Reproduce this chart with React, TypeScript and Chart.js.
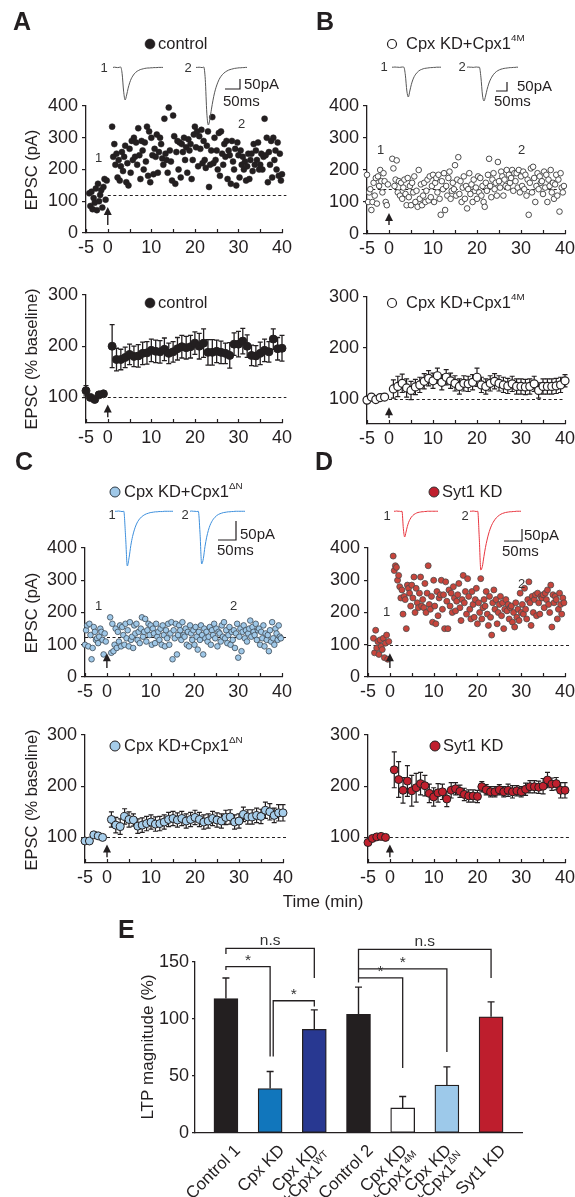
import React, { useEffect, useRef } from "react";
import { Chart, registerables } from "chart.js";
Chart.register(...registerables);

const FONT = "'Liberation Sans', Arial, Helvetica, sans-serif";
const INK = "#231f20";

// ---------------- data ----------------
const TIME_TICKS = [-5, 0, 10, 20, 30, 40];
const TIME_MINOR = [-5, 0, 5, 10, 15, 20, 25, 30, 35, 40];
const EPSC_TICKS = [0, 100, 200, 300, 400];
const PCT_TICKS = [100, 200, 300];
const SWEEP_MIN = 0.25; // minutes between sweeps

// Panel A (control) single-cell EPSC amplitudes (pA)
const A_BASE = [125, 85, 130, 75, 110, 95, 140, 72, 155, 100, 120, 135, 80, 145, 170, 105, 165];
const A_POST = [
  335, 240, 280, 215, 250, 175, 230, 165, 210, 255, 195, 240, 275, 160, 220, 150, 265, 190, 290, 230,
  300, 240, 285, 215, 330, 245, 170, 290, 260, 200, 285, 225, 335, 180, 320, 160, 300, 245, 185, 265,
  240, 310, 190, 255, 300, 280, 235, 215, 360, 250, 230, 190, 395, 260, 225, 165, 370, 305, 155, 255,
  290, 200, 285, 175, 280, 255, 300, 230, 270, 190, 295, 260, 280, 170, 230, 310, 335, 270, 320, 210,
  305, 265, 325, 220, 290, 230, 205, 275, 320, 145, 215, 260, 365, 220, 300, 230, 260, 200, 315, 180,
  320, 250, 215, 280, 240, 290, 170, 260, 245, 155, 290, 225, 200, 265, 150, 285, 245, 175, 260, 215,
  240, 200, 225, 165, 210, 250, 170, 230, 250, 195, 280, 215, 260, 230, 285, 200, 215, 250, 200, 240,
  360, 245, 300, 160, 255, 215, 290, 175, 300, 230, 260, 200, 285, 180, 250, 165, 185,
];
// Panel B (Cpx KD + Cpx1 4M)
const B_BASE = [185, 100, 130, 140, 75, 100, 160, 120, 175, 95, 180, 150, 200, 165, 130, 190, 165, 100, 90, 155];
const B_POST = [
  235, 205, 150, 170, 230, 130, 165, 120, 160, 110, 145, 170, 125, 90, 175, 115, 150, 90, 160, 130,
  180, 100, 135, 85, 200, 110, 155, 90, 120, 160, 100, 135, 170, 105, 180, 115, 150, 185, 100, 160,
  175, 130, 185, 110, 60, 165, 140, 190, 75, 150, 120, 175, 195, 110, 135, 160, 140, 215, 120, 170,
  240, 125, 165, 100, 145, 180, 110, 150, 80, 140, 190, 125, 155, 100, 170, 135, 145, 110, 180, 130,
  175, 120, 150, 100, 85, 160, 135, 185, 235, 150, 115, 170, 190, 140, 160, 120, 225, 165, 145, 195,
  180, 120, 170, 150, 200, 145, 185, 160, 175, 200, 135, 190, 165, 190, 145, 200, 130, 180, 150, 195,
  140, 185, 120, 170, 60, 160, 205, 130, 210, 175, 100, 150, 190, 140, 180, 160, 165, 125, 195, 145,
  185, 100, 170, 150, 200, 130, 160, 110, 155, 185, 120, 170, 70, 190, 145, 130, 150,
];
// Panel C (Cpx KD + Cpx1 ΔN)
const C_BASE = [100, 145, 160, 95, 165, 130, 55, 90, 155, 140, 115, 120, 105, 125, 150, 140, 115, 70, 135, 110];
const C_POST = [
  185, 75, 165, 80, 100, 150, 90, 140, 110, 160, 95, 155, 130, 100, 165, 120, 145, 95, 170, 115,
  125, 90, 160, 135, 165, 115, 140, 105, 150, 185, 125, 140, 180, 110, 145, 165, 130, 160, 100, 150,
  135, 105, 165, 125, 140, 115, 150, 100, 160, 130, 95, 145, 120, 165, 100, 135, 170, 55, 145, 120,
  165, 70, 130, 160, 145, 115, 170, 130, 125, 150, 100, 140, 95, 160, 135, 115, 145, 100, 155, 125,
  85, 140, 115, 160, 130, 70, 150, 120, 140, 110, 125, 155, 100, 145, 130, 165, 120, 150, 95, 140,
  135, 110, 160, 125, 170, 120, 145, 105, 130, 155, 100, 140, 115, 145, 90, 135, 165, 60, 125, 150,
  80, 140, 160, 120, 145, 110, 135, 150, 175, 125, 155, 140, 130, 165, 115, 145, 150, 100, 140, 120,
  160, 95, 135, 115, 130, 80, 145, 110, 170, 120, 100, 150, 135, 115, 160, 125, 120,
];
// Panel D (Syt1 KD)
const D_BASE = [120, 75, 145, 90, 110, 70, 115, 95, 85, 120, 60, 105, 130, 55, 110];
const D_POST = [
  375, 330, 345, 340, 300, 315, 280, 245, 270, 195, 250, 240, 150, 285, 275, 260, 220, 285, 245, 310,
  200, 275, 230, 215, 260, 310, 220, 240, 215, 290, 200, 260, 345, 225, 210, 250, 170, 300, 220, 165,
  265, 190, 245, 255, 300, 210, 255, 150, 295, 235, 150, 270, 220, 260, 200, 280, 245, 205, 235, 255,
  290, 215, 175, 240, 315, 230, 265, 195, 305, 250, 210, 180, 265, 225, 185, 240, 275, 165, 230, 200,
  305, 180, 215, 240, 220, 265, 195, 160, 250, 185, 130, 230, 270, 210, 240, 165, 200, 225, 250, 190,
  230, 150, 210, 240, 205, 225, 180, 215, 220, 170, 200, 155, 230, 185, 210, 175, 260, 200, 225, 195,
  275, 210, 180, 240, 295, 230, 160, 250, 200, 240, 255, 190, 260, 230, 195, 250, 245, 255, 215, 260,
  240, 270, 225, 200, 285, 155, 255, 230, 250, 240, 180, 210, 260, 225, 195, 245, 230,
];

// Averaged time courses (% baseline), 1-min bins
const BIN_T = [-5, -4, -3, -2, -1, 1, 2, 3, 4, 5, 6, 7, 8, 9, 10, 11, 12, 13, 14, 15, 16, 17, 18, 19, 20,
  21, 22, 23, 24, 25, 26, 27, 28, 29, 30, 31, 32, 33, 34, 35, 36, 37, 38, 39, 40];
const A_PCT = [113, 100, 96, 105, 107, 200, 174, 174, 178, 184, 180, 181, 186, 187, 192, 190, 189, 194, 186, 189,
  195, 199, 197, 199, 206, 200, 206, 188, 188, 190, 188, 186, 182, 204, 204, 210, 200, 182, 181, 186, 192, 189, 214, 195, 196];
const A_SEM = [10, 5, 5, 4, 4, 42, 22, 20, 20, 20, 20, 22, 22, 22, 22, 22, 22, 22, 20, 20,
  22, 22, 22, 22, 22, 25, 28, 25, 25, 22, 22, 20, 25, 22, 25, 25, 22, 20, 20, 22, 22, 20, 20, 22, 25];
const B_PCT = [97, 103, 98, 102, 103, 119, 124, 130, 121, 116, 123, 127, 134, 140, 135, 145, 132, 142, 135, 130,
  124, 130, 129, 132, 142, 127, 124, 130, 134, 130, 127, 125, 129, 124, 124, 123, 124, 129, 116, 124, 124, 124, 125, 127, 135];
const B_SEM = [4, 5, 4, 3, 3, 18, 20, 18, 18, 18, 15, 15, 15, 15, 15, 15, 15, 15, 15, 15,
  15, 15, 15, 15, 18, 15, 15, 15, 15, 15, 15, 15, 15, 15, 15, 15, 15, 15, 15, 15, 15, 15, 15, 15, 12];
const C_PCT = [93, 93, 105, 103, 100, 135, 124, 121, 141, 135, 134, 122, 124, 127, 130, 126, 127, 130, 135, 137,
  134, 137, 132, 135, 139, 135, 130, 132, 137, 134, 132, 139, 140, 130, 132, 145, 140, 140, 143, 141, 153, 150, 143, 148, 148];
const C_SEM = [4, 3, 3, 3, 3, 15, 15, 15, 15, 15, 12, 14, 14, 14, 14, 14, 14, 14, 14, 14,
  14, 14, 14, 14, 14, 14, 14, 14, 14, 14, 14, 14, 14, 14, 14, 14, 14, 14, 14, 14, 16, 16, 14, 16, 16];
const D_PCT = [90, 98, 101, 102, 100, 232, 213, 192, 210, 191, 197, 205, 201, 186, 179, 187, 189, 175, 192, 195,
  190, 184, 181, 181, 180, 199, 193, 189, 189, 193, 189, 192, 189, 191, 189, 194, 199, 199, 198, 200, 212, 204, 205, 192, 192];
const D_SEM = [4, 3, 3, 3, 3, 35, 35, 25, 30, 30, 28, 22, 20, 18, 18, 18, 15, 15, 15, 12,
  12, 12, 12, 12, 12, 10, 10, 10, 10, 10, 10, 12, 12, 10, 10, 12, 12, 12, 12, 15, 15, 12, 12, 15, 15];

// Example EPSC traces (pA vs ms)
const TRACE_T = [0, 5, 10, 15, 20, 25, 30, 35, 40, 45, 50, 55, 60, 65, 70, 75, 80, 85, 90, 95,
  100, 105, 110, 115, 120, 125, 130, 135, 140, 145, 150, 155, 160, 165];
const TR_A1 = [0, 1, 0, -1, 0, 2, -30, -120, -165, -140, -105, -78, -58, -44, -33, -25, -19, -15, -11, -9, -7, -5, -4, -3, -3, -2, -2, -1, -1, -1, 0, 0, 0, 0];
const TR_A2 = [0, 0, 1, 0, -1, 2, -60, -230, -290, -260, -210, -165, -128, -100, -78, -60, -47, -37, -29, -23, -18, -14, -11, -9, -7, -5, -4, -3, -2, -2, -1, -1, 0, 0];
const TR_B1 = [0, 0, 1, 0, 0, -1, 0, 1, 0, -40, -120, -150, -120, -88, -64, -47, -35, -26, -19, -14, -11, -8, -6, -5, -4, -3, -2, -2, -1, -1, 0, 0, 0, 0];
const TR_B2 = [0, 1, 0, 0, -1, 0, 1, 0, 0, -50, -140, -170, -145, -112, -85, -65, -50, -38, -29, -22, -17, -13, -10, -8, -6, -5, -4, -3, -2, -2, -1, -1, 0, 0];
const TR_C1 = [0, 0, 1, 0, -1, 0, -90, -200, -170, -125, -92, -68, -50, -37, -28, -21, -16, -12, -9, -7, -5, -4, -3, -2, -2, -1, -1, -1, 0, 0, 0, 0, 0, 0];
const TR_C2 = [0, 1, 0, 0, -1, 0, -80, -195, -175, -130, -96, -71, -52, -39, -29, -22, -16, -12, -9, -7, -5, -4, -3, -2, -2, -1, -1, 0, 0, 0, 0, 0, 0, 0];
const TR_D1 = [0, 0, 1, 0, 0, -1, 0, -70, -105, -85, -62, -45, -33, -24, -18, -13, -10, -7, -5, -4, -3, -2, -2, -1, -1, 0, 0, 0, 0, 0, 0, 0, 0, 0];
const TR_D2 = [0, 0, 1, 0, -1, 0, -110, -240, -225, -185, -148, -118, -93, -73, -57, -45, -35, -27, -21, -16, -12, -9, -7, -5, -4, -3, -2, -2, -1, -1, 0, 0, 0, 0];

// Panel E: LTP magnitude
type Seg = { t: string; sup?: boolean };
const E_X = [0, 1, 2, 3, 4, 5, 6];
const E_LABELS: Seg[][][] = [
  [[{ t: "Control 1" }]],
  [[{ t: "Cpx KD" }]],
  [[{ t: "Cpx KD" }], [{ t: "+Cpx1" }, { t: "WT", sup: true }]],
  [[{ t: "Control 2" }]],
  [[{ t: "Cpx KD" }], [{ t: "+Cpx1" }, { t: "4M", sup: true }]],
  [[{ t: "Cpx KD" }], [{ t: "+Cpx1" }, { t: "ΔN", sup: true }]],
  [[{ t: "Syt1 KD" }]],
];
const E_VALUES = [118, 39, 91, 104, 22, 42, 102];
const E_ERR = [18, 15, 17, 24, 10, 16, 13];
const E_COLORS = ["#231f20", "#1176bc", "#283891", "#231f20", "#ffffff", "#9dc9ea", "#be1e2d"];
const E_TICKS = [0, 50, 100, 150];
const E_BRACKETS = [
  { x0: 0, x1: 2, y: 162, yl: 157, yr: 136, label: "n.s" },
  { x0: 0, x1: 1, y: 146, yl: 143, yr: 67, label: "*" },
  { x0: 1.07, x1: 2, y: 116, yl: 67, yr: 111, label: "*" },
  { x0: 3, x1: 6, y: 161, yl: 132, yr: 136, label: "n.s" },
  { x0: 3, x1: 5, y: 144, yl: 144, yr: 71, label: "*" },
  { x0: 3, x1: 4, y: 136, yl: 136, yr: 57, label: "*" },
];

// ---------------- drawing helpers ----------------
type Box = { x0: number; y0: number; x1: number; y1: number };
type Area = { l: number; t: number; r: number; b: number };
type Txt = { x: number; y: number; s: string | Seg[]; size: number; bold?: boolean; align?: string; rot?: number; dx?: number; dy?: number; color?: string };
type Dot = { x: number; y: number; r: number; fill: string; stroke: string; lw: number };

function drawText(ctx: CanvasRenderingContext2D, t: Txt, ox: number, oy: number) {
  const segs: Seg[] = typeof t.s === "string" ? [{ t: t.s }] : t.s;
  ctx.save();
  ctx.translate(t.x - ox, t.y - oy);
  if (t.rot) ctx.rotate(t.rot);
  if (t.dx || t.dy) ctx.translate(t.dx || 0, t.dy || 0);
  ctx.fillStyle = t.color || INK;
  ctx.textBaseline = "middle";
  ctx.textAlign = "left";
  const f = (s: Seg) => `${t.bold ? "bold " : ""}${s.sup ? t.size * 0.6 : t.size}px ${FONT}`;
  let w = 0;
  for (const s of segs) { ctx.font = f(s); w += ctx.measureText(s.t).width; }
  let x = t.align === "center" ? -w / 2 : t.align === "right" ? -w : 0;
  for (const s of segs) {
    ctx.font = f(s);
    ctx.fillText(s.t, x, s.sup ? -t.size * 0.32 : 0);
    x += ctx.measureText(s.t).width;
  }
  ctx.restore();
}

function decoPlugin(d: any) {
  const ox = d.box.x0, oy = d.box.y0;
  return {
    id: "deco",
    beforeDatasetsDraw(chart: any) {
      const ctx: CanvasRenderingContext2D = chart.ctx;
      const xs = chart.scales.x, ys = chart.scales.y;
      ctx.save();
      if (d.hline) {
        ctx.strokeStyle = INK; ctx.lineWidth = 1.2; ctx.setLineDash([3, 2.5]);
        const py = Math.round(ys.getPixelForValue(d.hline.y)) + 0.5;
        ctx.beginPath();
        ctx.moveTo(xs.getPixelForValue(d.hline.x0), py);
        ctx.lineTo(xs.getPixelForValue(d.hline.x1), py);
        ctx.stroke();
        ctx.setLineDash([]);
      }
      if (d.err) {
        const e = d.err;
        ctx.strokeStyle = INK; ctx.lineWidth = e.lw;
        e.xs.forEach((xv: number, i: number) => {
          const px = xs.getPixelForValue(xv);
          const top = ys.getPixelForValue(e.ys[i] + e.es[i]);
          const bot = e.down ? ys.getPixelForValue(e.ys[i] - e.es[i]) : ys.getPixelForValue(e.ys[i]);
          ctx.beginPath();
          ctx.moveTo(px, top); ctx.lineTo(px, bot);
          ctx.moveTo(px - e.cap, top); ctx.lineTo(px + e.cap, top);
          if (e.down) { ctx.moveTo(px - e.cap, bot); ctx.lineTo(px + e.cap, bot); }
          ctx.stroke();
        });
      }
      ctx.restore();
    },
    afterDraw(chart: any) {
      const ctx: CanvasRenderingContext2D = chart.ctx;
      const xs = chart.scales.x, ys = chart.scales.y;
      const ca = chart.chartArea;
      ctx.save();
      if (d.innerTicks) {
        ctx.strokeStyle = INK; ctx.lineWidth = 1.2;
        ctx.beginPath();
        for (const v of d.innerTicks) {
          const px = Math.round(xs.getPixelForValue(v)) + 0.5;
          ctx.moveTo(px, ca.bottom); ctx.lineTo(px, ca.bottom - 4);
        }
        ctx.stroke();
      }
      if (d.arrow) {
        const a = d.arrow;
        const px = xs.getPixelForValue(a.x);
        const tail = ys.getPixelForValue(a.y0), tip = ys.getPixelForValue(a.y1);
        ctx.strokeStyle = INK; ctx.lineWidth = 1.4;
        ctx.beginPath(); ctx.moveTo(px, tail); ctx.lineTo(px, tip + 6); ctx.stroke();
        ctx.fillStyle = INK;
        ctx.beginPath(); ctx.moveTo(px, tip); ctx.lineTo(px - 4, tip + 8); ctx.lineTo(px + 4, tip + 8); ctx.closePath(); ctx.fill();
      }
      if (d.plines) {
        for (const pl of d.plines) {
          ctx.strokeStyle = pl.color || INK; ctx.lineWidth = pl.lw || 1.2;
          ctx.beginPath();
          pl.pts.forEach((p: number[], i: number) => (i ? ctx.lineTo(p[0] - ox, p[1] - oy) : ctx.moveTo(p[0] - ox, p[1] - oy)));
          ctx.stroke();
        }
      }
      if (d.dots) {
        for (const o of d.dots as Dot[]) {
          ctx.beginPath(); ctx.arc(o.x - ox, o.y - oy, o.r, 0, Math.PI * 2);
          ctx.fillStyle = o.fill; ctx.fill();
          ctx.lineWidth = o.lw; ctx.strokeStyle = o.stroke; ctx.stroke();
        }
      }
      if (d.texts) for (const t of d.texts) drawText(ctx, t, ox, oy);
      if (d.extra) d.extra(chart, ctx);
      ctx.restore();
    },
  };
}

function frame(box: Box, area: Area, xr: number[], xTicks: number[], yr: number[], yTicks: number[], showX: boolean, yTickLen = 4, yPad = 4) {
  const yW = area.l - box.x0, xH = box.y1 - area.b;
  return {
    layout: { padding: { left: 0, bottom: 0, top: area.t - box.y0, right: box.x1 - area.r } },
    scales: {
      x: {
        type: "linear", min: xr[0], max: xr[1], offset: false,
        afterBuildTicks: (s: any) => { s.ticks = xTicks.map((v) => ({ value: v })); },
        afterFit: (s: any) => { s.height = xH; },
        grid: { display: false, drawTicks: false, offset: false },
        border: { display: true, color: INK, width: 1.3 },
        ticks: { display: showX, font: { family: FONT, size: 18 }, color: INK, padding: 4, maxRotation: 0, autoSkip: false },
      },
      y: {
        type: "linear", min: yr[0], max: yr[1],
        afterBuildTicks: (s: any) => { s.ticks = yTicks.map((v) => ({ value: v })); },
        afterFit: (s: any) => { s.width = yW; },
        grid: { display: true, drawOnChartArea: false, drawTicks: true, tickLength: yTickLen, color: INK, lineWidth: 1.2 },
        border: { display: true, color: INK, width: 1.3 },
        ticks: { font: { family: FONT, size: 18 }, color: INK, padding: yPad, autoSkip: false },
      },
    },
  };
}

const baseOpts = (fr: any) => ({
  animation: false, responsive: false, maintainAspectRatio: false, events: [],
  layout: fr.layout, scales: fr.scales,
  plugins: { legend: { display: false }, tooltip: { enabled: false } },
});

function sweeps(start: number, vals: number[]) {
  return vals.map((v, i) => ({ x: start + i * SWEEP_MIN, y: v }));
}

function timeChart(p: any) {
  const fr = frame(p.box, p.area, [-5, 40], TIME_TICKS, p.yr, p.yTicks, true);
  return {
    box: p.box,
    make: () => ({
      type: "scatter",
      data: {
        datasets: [{
          data: p.points(), showLine: false, clip: false,
          pointRadius: p.dot.r, pointHoverRadius: p.dot.r,
          pointBackgroundColor: p.dot.fill, pointBorderColor: p.dot.stroke, pointBorderWidth: p.dot.lw,
        }],
      },
      options: baseOpts(fr),
      plugins: [decoPlugin({ ...p.deco, box: p.box, innerTicks: TIME_MINOR })],
    }),
  };
}

function traceChart(x0: number, x1: number, y0: number, y1: number, vals: number[], color: string) {
  const box = { x0: x0 - 2, y0: y0 - 2, x1: x1 + 2, y1: y1 + 2 };
  return {
    box,
    make: () => ({
      type: "line",
      data: { datasets: [{ data: TRACE_T.map((t, i) => ({ x: t, y: vals[i] })), borderColor: color, borderWidth: 1, pointRadius: 0, cubicInterpolationMode: "monotone", clip: false }] },
      options: {
        animation: false, responsive: false, maintainAspectRatio: false, events: [],
        layout: { padding: 2 },
        plugins: { legend: { display: false }, tooltip: { enabled: false } },
        scales: {
          x: { type: "linear", display: false, min: 0, max: 165 },
          y: { type: "linear", display: false, min: Math.min(...vals), max: Math.max(...vals) },
        },
      },
    }),
  };
}

const T = (x: number, y: number, s: string | Seg[], size: number, extra: any = {}): Txt => ({ x, y, s, size, ...extra });
const ROT = -Math.PI / 2;
const LEG = 16.5;
const LET = 25;
const sup4M: Seg[] = [{ t: "Cpx KD+Cpx1" }, { t: "4M", sup: true }];
const supDN: Seg[] = [{ t: "Cpx KD+Cpx1" }, { t: "ΔN", sup: true }];

function buildSpecs() {
  const specs: any[] = [];
  const dotA = { r: 3, fill: INK, stroke: INK, lw: 0.5 };
  const dotB = { r: 2.8, fill: "#ffffff", stroke: "#3a3a3a", lw: 0.9 };
  const dotC = { r: 2.8, fill: "#9fc8e8", stroke: "#3d4a55", lw: 0.8 };
  const dotD = { r: 3, fill: "#c8453c", stroke: "#4a4a4a", lw: 0.8 };

  // ---- A top ----
  specs.push(timeChart({
    box: { x0: 0, y0: 0, x1: 302, y1: 262 }, area: { l: 86, t: 106, r: 282, b: 233 },
    yr: [0, 400], yTicks: EPSC_TICKS, dot: dotA,
    points: () => sweeps(-4.25, A_BASE).concat(sweeps(1, A_POST)),
    deco: {
      hline: { y: 120, x0: 0, x1: 41 }, arrow: { x: 0, y0: 25, y1: 82 },
      dots: [{ x: 150, y: 44, r: 5, fill: INK, stroke: INK, lw: 0.5 }],
      plines: [{ pts: [[225, 89], [240, 89], [240, 79]], lw: 1.2 }],
      texts: [
        T(13, 23, "A", LET, { bold: true }), T(158, 44, "control", LEG),
        T(32, 170, "EPSC (pA)", 16.5, { rot: ROT, align: "center" }),
        T(95, 158, "1", 13, { color: "#333" }), T(238, 124, "2", 13, { color: "#333" }),
        T(104, 68, "1", 13, { color: "#333", align: "center" }), T(188, 68, "2", 13, { color: "#333", align: "center" }),
        T(244, 85, "50pA", 15), T(223, 102, "50ms", 15),
      ],
    },
  }));
  // ---- A bottom ----
  specs.push(timeChart({
    box: { x0: 0, y0: 262, x1: 302, y1: 452 }, area: { l: 86, t: 295, r: 282, b: 423 },
    yr: [50, 300], yTicks: PCT_TICKS, dot: { r: 4, fill: INK, stroke: INK, lw: 1 },
    points: () => BIN_T.map((t, i) => ({ x: t, y: A_PCT[i] })),
    deco: {
      hline: { y: 100, x0: 0, x1: 41 }, arrow: { x: 0, y0: 61, y1: 86 },
      err: { xs: BIN_T, ys: A_PCT, es: A_SEM, down: true, cap: 2.5, lw: 1.3 },
      dots: [{ x: 150, y: 303, r: 5, fill: INK, stroke: INK, lw: 0.5 }],
      texts: [T(158, 303, "control", LEG), T(32, 359, "EPSC (% baseline)", 16.5, { rot: ROT, align: "center" })],
    },
  }));
  // ---- B top ----
  specs.push(timeChart({
    box: { x0: 285, y0: 0, x1: 590, y1: 262 }, area: { l: 367, t: 106, r: 565, b: 234 },
    yr: [0, 400], yTicks: EPSC_TICKS, dot: dotB,
    points: () => sweeps(-5, B_BASE).concat(sweeps(0.75, B_POST)),
    deco: {
      hline: { y: 140, x0: -3.8, x1: 40 }, arrow: { x: 0, y0: 28, y1: 66 },
      dots: [{ x: 392, y: 44, r: 4.5, fill: "#fff", stroke: INK, lw: 1.2 }],
      plines: [{ pts: [[496, 91], [507, 91], [507, 82]], lw: 1.2 }],
      texts: [
        T(316, 23, "B", LET, { bold: true }), T(406, 44, sup4M, LEG),
        T(377, 150, "1", 13, { color: "#333" }), T(518, 150, "2", 13, { color: "#333" }),
        T(384, 67, "1", 13, { color: "#333", align: "center" }), T(462, 67, "2", 13, { color: "#333", align: "center" }),
        T(517, 87, "50pA", 15), T(494, 102, "50ms", 15),
      ],
    },
  }));
  // ---- B bottom ----
  specs.push(timeChart({
    box: { x0: 285, y0: 262, x1: 590, y1: 452 }, area: { l: 367, t: 297, r: 565, b: 424 },
    yr: [50, 300], yTicks: PCT_TICKS, dot: { r: 4, fill: "#ffffff", stroke: INK, lw: 1.2 },
    points: () => BIN_T.map((t, i) => ({ x: t, y: B_PCT[i] })),
    deco: {
      hline: { y: 100, x0: 0, x1: 40 }, arrow: { x: 0, y0: 62, y1: 83 },
      err: { xs: BIN_T, ys: B_PCT, es: B_SEM, down: true, cap: 2.5, lw: 1.2 },
      dots: [{ x: 392, y: 303, r: 4.5, fill: "#fff", stroke: INK, lw: 1.2 }],
      texts: [T(406, 303, sup4M, LEG)],
    },
  }));
  // ---- C top ----
  specs.push(timeChart({
    box: { x0: 0, y0: 445, x1: 302, y1: 700 }, area: { l: 85, t: 548, r: 282, b: 677 },
    yr: [0, 400], yTicks: EPSC_TICKS, dot: dotC,
    points: () => sweeps(-5, C_BASE).concat(sweeps(0.75, C_POST)),
    deco: {
      hline: { y: 125, x0: -5, x1: 41 }, arrow: { x: 0, y0: 28, y1: 74 },
      dots: [{ x: 115, y: 492, r: 5, fill: "#9fc8e8", stroke: "#2f3a44", lw: 1 }],
      plines: [{ pts: [[218, 540], [236, 540], [236, 521]], lw: 1.2 }],
      texts: [
        T(15, 463, "C", LET, { bold: true }), T(124, 492, supDN, LEG),
        T(32, 613, "EPSC (pA)", 16.5, { rot: ROT, align: "center" }),
        T(95, 606, "1", 13, { color: "#333" }), T(230, 606, "2", 13, { color: "#333" }),
        T(112, 515, "1", 13, { color: "#333", align: "center" }), T(185, 515, "2", 13, { color: "#333", align: "center" }),
        T(240, 535, "50pA", 15), T(217, 551, "50ms", 15),
      ],
    },
  }));
  // ---- C bottom ----
  specs.push(timeChart({
    box: { x0: 0, y0: 700, x1: 302, y1: 892 }, area: { l: 85, t: 735, r: 283, b: 863 },
    yr: [50, 300], yTicks: PCT_TICKS, dot: { r: 4, fill: "#a6cdea", stroke: INK, lw: 1 },
    points: () => BIN_T.map((t, i) => ({ x: t, y: C_PCT[i] })),
    deco: {
      hline: { y: 100, x0: 0, x1: 41 }, arrow: { x: 0, y0: 61, y1: 86 },
      err: { xs: BIN_T, ys: C_PCT, es: C_SEM, down: true, cap: 2.5, lw: 1.2 },
      dots: [{ x: 115, y: 746, r: 5, fill: "#a6cdea", stroke: INK, lw: 1 }],
      texts: [T(124, 746, supDN, LEG), T(32, 800, "EPSC (% baseline)", 16.5, { rot: ROT, align: "center" })],
    },
  }));
  // ---- D top ----
  specs.push(timeChart({
    box: { x0: 285, y0: 445, x1: 590, y1: 700 }, area: { l: 368, t: 548, r: 565, b: 677 },
    yr: [0, 400], yTicks: EPSC_TICKS, dot: dotD,
    points: () => sweeps(-3.75, D_BASE).concat(sweeps(0.75, D_POST)),
    deco: {
      hline: { y: 100, x0: -5, x1: 41 }, arrow: { x: 0, y0: 28, y1: 74 },
      dots: [{ x: 434, y: 492, r: 5, fill: "#c0202e", stroke: "#333", lw: 1 }],
      plines: [{ pts: [[504, 541], [522, 541], [522, 529]], lw: 1.2 }],
      texts: [
        T(315, 463, "D", LET, { bold: true }), T(442, 492, "Syt1 KD", LEG),
        T(383, 612, "1", 13, { color: "#333" }), T(518, 584, "2", 13, { color: "#333" }),
        T(387, 516, "1", 13, { color: "#333", align: "center" }), T(465, 516, "2", 13, { color: "#333", align: "center" }),
        T(524, 536, "50pA", 15), T(502, 552, "50ms", 15),
      ],
    },
  }));
  // ---- D bottom ----
  specs.push(timeChart({
    box: { x0: 285, y0: 700, x1: 590, y1: 892 }, area: { l: 368, t: 735, r: 565, b: 863 },
    yr: [50, 300], yTicks: PCT_TICKS, dot: { r: 4, fill: "#c0202e", stroke: INK, lw: 1 },
    points: () => BIN_T.map((t, i) => ({ x: t, y: D_PCT[i] })),
    deco: {
      hline: { y: 100, x0: 0, x1: 41 }, arrow: { x: 0, y0: 61, y1: 86 },
      err: { xs: BIN_T, ys: D_PCT, es: D_SEM, down: true, cap: 2.5, lw: 1.2 },
      dots: [{ x: 435, y: 746, r: 5, fill: "#c0202e", stroke: INK, lw: 1 }],
      texts: [T(443, 746, "Syt1 KD", LEG)],
    },
  }));

  // ---- traces ----
  specs.push(traceChart(113, 163, 67, 100, TR_A1, "#555555"));
  specs.push(traceChart(196, 247, 67, 125, TR_A2, "#555555"));
  specs.push(traceChart(392, 441, 67, 97, TR_B1, "#555555"));
  specs.push(traceChart(467, 518, 67, 101, TR_B2, "#555555"));
  specs.push(traceChart(115, 173, 511, 566, TR_C1, "#3d8fdc"));
  specs.push(traceChart(190, 245, 511, 564, TR_C2, "#3d8fdc"));
  specs.push(traceChart(394, 438, 511, 537, TR_D1, "#e8353f"));
  specs.push(traceChart(470, 521, 511, 570, TR_D2, "#e8353f"));

  // ---- E ----
  const eBox = { x0: 0, y0: 885, x1: 575, y1: 1197 };
  const eArea = { l: 195, t: 962, r: 522, b: 1133 };
  const fr = frame(eBox, eArea, [-0.7, 6.7], [], [0, 150], E_TICKS, false, 3, 3);
  const LBL = 17;
  specs.push({
    box: eBox,
    make: () => ({
      type: "bar",
      data: {
        datasets: [{
          data: E_X.map((x, i) => ({ x, y: E_VALUES[i] })),
          backgroundColor: E_COLORS, borderColor: INK, borderWidth: 1.3, borderSkipped: false, barThickness: 24,
        }],
      },
      options: baseOpts(fr),
      plugins: [decoPlugin({
        box: eBox,
        err: { xs: E_X, ys: E_VALUES, es: E_ERR, down: false, cap: 3.5, lw: 1.4 },
        texts: [
          T(118, 931, "E", LET, { bold: true }),
          T(323, 902, "Time (min)", 17, { align: "center" }),
          T(148, 1047, "LTP magnitude (%)", 17, { rot: ROT, align: "center" }),
        ],
        extra: (chart: any, ctx: CanvasRenderingContext2D) => {
          const xs = chart.scales.x, ys = chart.scales.y;
          // significance brackets
          ctx.strokeStyle = INK; ctx.lineWidth = 1.3;
          for (const b of E_BRACKETS) {
            const px0 = xs.getPixelForValue(b.x0), px1 = xs.getPixelForValue(b.x1);
            const py = ys.getPixelForValue(b.y);
            ctx.beginPath();
            ctx.moveTo(px0, ys.getPixelForValue(b.yl)); ctx.lineTo(px0, py);
            ctx.lineTo(px1, py); ctx.lineTo(px1, ys.getPixelForValue(b.yr));
            ctx.stroke();
            drawText(ctx, { x: (px0 + px1) / 2, y: py - (b.label === "*" ? 6 : 8), s: b.label, size: 15.5, align: "center", color: "#333" }, 0, 0);
          }
          // rotated category labels
          const axisY = ys.getPixelForValue(0);
          E_LABELS.forEach((lines, i) => {
            const xc = xs.getPixelForValue(E_X[i]);
            if (lines.length === 1) {
              drawText(ctx, { x: xc + 12, y: axisY + 15, s: lines[0], size: LBL, align: "right", rot: -Math.PI / 4 }, 0, 0);
            } else {
              drawText(ctx, { x: xc + 2, y: axisY + 15, s: lines[0], size: LBL, align: "right", rot: -Math.PI / 4 }, 0, 0);
              drawText(ctx, { x: xc + 2, y: axisY + 15, s: lines[1], size: LBL, align: "right", rot: -Math.PI / 4, dx: 4, dy: 16 }, 0, 0);
            }
          });
        },
      })],
    }),
  });
  return specs;
}

function ChartCanvas({ spec }: { spec: any }) {
  const ref = useRef<HTMLCanvasElement>(null);
  useEffect(() => {
    const c = new Chart(ref.current as HTMLCanvasElement, spec.make());
    return () => c.destroy();
  }, [spec]);
  const { x0, y0, x1, y1 } = spec.box;
  const w = x1 - x0, h = y1 - y0;
  return <canvas ref={ref} width={w} height={h} style={{ position: "absolute", left: x0, top: y0, width: w, height: h }} />;
}

const SPECS = buildSpecs();

export default function App() {
  return (
    <div style={{ position: "absolute", left: 0, top: 0, width: 575, height: 1197, overflow: "hidden", background: "#ffffff" }}>
      {SPECS.map((s, i) => <ChartCanvas key={i} spec={s} />)}
    </div>
  );
}
